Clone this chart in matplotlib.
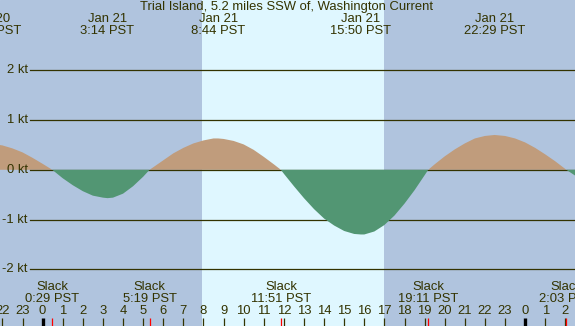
import numpy as np
import matplotlib
matplotlib.use("Agg")
import matplotlib.pyplot as plt

# Current speed (kt), hours from midnight Jan 21 (PST)
hours = [-2.6, -2.5, -2.0, -1.5, -1.0, -0.5, 0.0, 0.48, 1.0, 1.5, 2.0, 2.5, 3.0, 3.23,
         3.5, 4.0, 4.5, 5.0, 5.32, 5.5, 6.0, 6.5, 7.0, 7.5, 8.0, 8.5, 8.73, 9.0, 9.5,
         10.0, 10.5, 11.0, 11.5, 11.85, 12.0, 12.5, 13.0, 13.5, 14.0, 14.5, 15.0, 15.5,
         15.83, 16.0, 16.5, 17.0, 17.5, 18.0, 18.5, 19.0, 19.18, 19.5, 20.0, 20.5, 21.0,
         21.5, 22.0, 22.48, 23.0, 23.5, 24.0, 24.5, 25.0, 25.5, 26.05, 26.5]
speed = [0.52, 0.52, 0.49, 0.43, 0.35, 0.24, 0.12, 0.0, -0.17, -0.31, -0.43, -0.52, -0.56, -0.57,
         -0.56, -0.48, -0.33, -0.14, 0.0, 0.05, 0.19, 0.33, 0.44, 0.53, 0.59, 0.63, 0.63, 0.62, 0.58,
         0.51, 0.40, 0.26, 0.11, 0.0, -0.08, -0.33, -0.57, -0.79, -0.98, -1.12, -1.23, -1.29,
         -1.30, -1.30, -1.24, -1.11, -0.92, -0.68, -0.41, -0.11, 0.0, 0.11, 0.27, 0.41, 0.53,
         0.63, 0.68, 0.70, 0.68, 0.63, 0.55, 0.44, 0.31, 0.17, 0.0, -0.12]

# max flood / ebb events (top labels)
max_times = [-2.6, 3.23, 8.73, 15.83, 22.48]
max_labels = ["Jan 20\n21:24 PST", "Jan 21\n3:14 PST", "Jan 21\n8:44 PST",
              "Jan 21\n15:50 PST", "Jan 21\n22:29 PST"]

# slack events (bottom labels)
slack_times = [0.48, 5.32, 11.85, 19.18, 26.05]
slack_labels = ["Slack\n0:29 PST", "Slack\n5:19 PST", "Slack\n11:51 PST",
                "Slack\n19:11 PST", "Slack\n2:03 PST"]

sunrise, sunset = 7.93, 16.99
kt_levels = [2, 1, 0, -1, -2]
title = "Trial Island, 5.2 miles SSW of, Washington Current"

night = "#b0c4de"
day = "#dff7ff"
flood = "#c09c7c"
ebb = "#529673"
ink = "#333300"
fs = 9.35

plt.rcParams['font.family'] = ['Liberation Sans', 'DejaVu Sans']

fig = plt.figure(figsize=(5.75, 3.26), dpi=100)
ax = fig.add_axes([0, 0, 1, 1])
ax.set_xlim(-2.12, 26.48)
ax.set_ylim(-3.14, 3.413)
ax.axis('off')
ax.add_patch(plt.Rectangle((-2.12, -3.14), 28.6, 6.56, color=night, zorder=0))
ax.axvspan(sunrise, sunset, color=day, lw=0, zorder=0.5)

# pixel -> kt helper for layout in y
px = lambda y: (169.8 - y) / 49.75

t = np.array(hours)
v = np.array(speed)
ax.fill_between(t, v, 0, where=v >= 0, interpolate=True, color=flood, lw=0, zorder=1)

for k in kt_levels:
    ax.plot([-0.63, 26.6], [k, k], color=ink, lw=0.9, zorder=2)
    ax.text(-0.74, k, f"{k} kt", ha='right', va='center', fontsize=fs, color=ink)

ax.fill_between(t, v, 0, where=v <= 0, interpolate=True, color=ebb, lw=0, zorder=3)

ax.text(12.15, px(7), title, ha='center', va='center', fontsize=fs, color=ink)
for tm, lab in zip(max_times, max_labels):
    ax.text(tm, px(25), lab, ha='center', va='center', fontsize=fs, color=ink,
            linespacing=1.0)
for tm, lab in zip(slack_times, slack_labels):
    ax.text(tm, px(293), lab, ha='center', va='center', fontsize=fs, color=ink,
            linespacing=1.0)

# hour ticks
for h in range(-2, 27):
    ax.text(h, px(311), str(h % 24), ha='center', va='center', fontsize=fs, color=ink)
    if h % 24 == 0:
        ax.plot([h, h], [px(318), px(327)], color='black', lw=2.4, zorder=4,
                solid_capstyle='butt')
    else:
        ax.plot([h, h], [px(318), px(327)], color=ink, lw=0.9, zorder=4,
                solid_capstyle='butt')
for tm in slack_times:
    ax.plot([tm, tm], [px(318), px(327)], color='red', lw=0.9, zorder=4,
            solid_capstyle='butt')

fig.savefig('out.png', dpi=100)
